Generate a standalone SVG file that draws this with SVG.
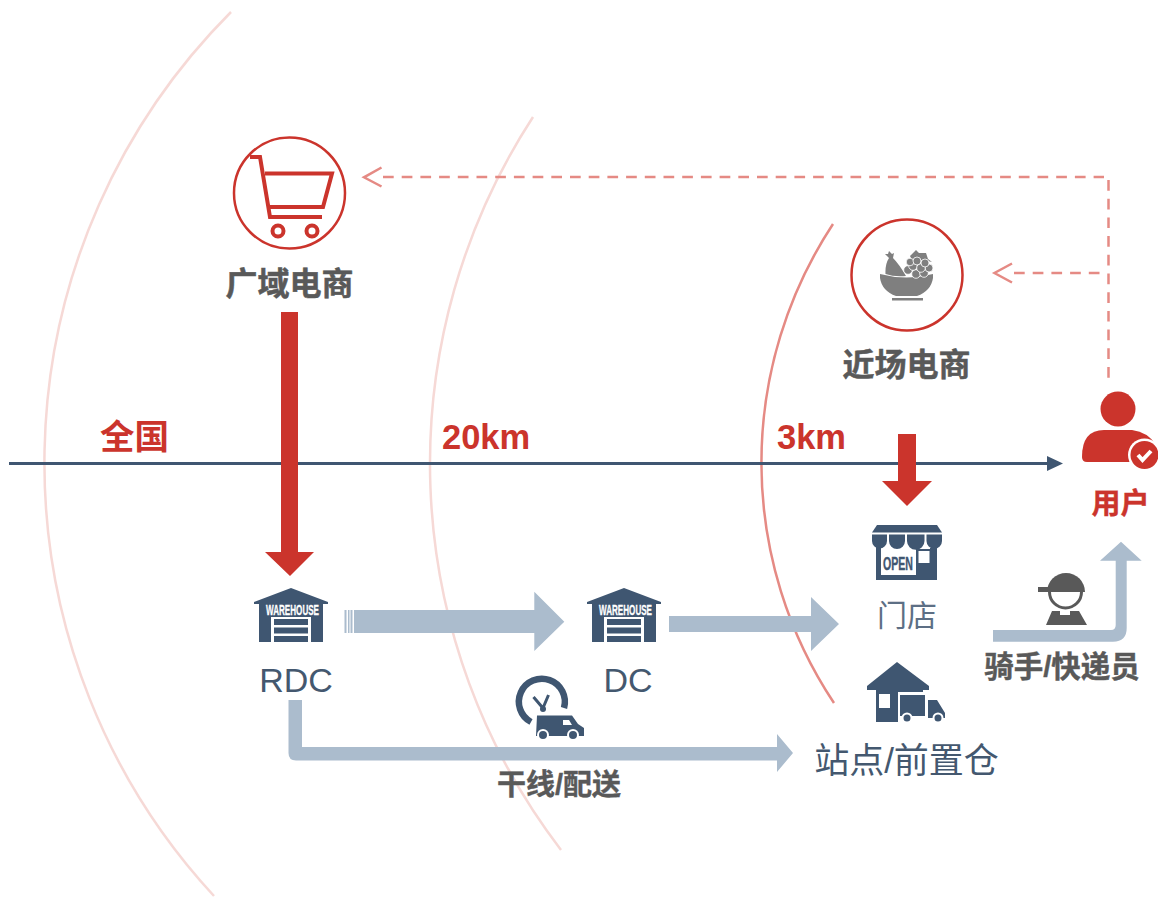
<svg xmlns="http://www.w3.org/2000/svg" width="1158" height="897" viewBox="0 0 1158 897">
<style>
.zh{font-family:"Liberation Sans","Noto Sans CJK SC",sans-serif}
.lbl{font-weight:700;font-size:32px;fill:#595959;stroke:#595959;stroke-width:.5;text-anchor:middle}
.red{font-weight:700;font-size:34.500px;fill:#cb342c}
.blue{font-size:34px;fill:#44586f;text-anchor:middle}
.navy{fill:#3f5671}
.steel{fill:#abbccd}
.arc{fill:none;stroke-width:2.500}
.dash{fill:none;stroke:#e58a84;stroke-width:2.500;stroke-dasharray:10.700 8}
.head{fill:none;stroke:#e58a84;stroke-width:2.500}
.ring{fill:#fff;stroke:#cb342c;stroke-width:2.500}
.wt{font-family:"Liberation Sans Narrow","Liberation Sans",sans-serif;font-weight:700;font-size:15px;fill:#fff;stroke:#fff;stroke-width:.3}
.grape{fill:#7f7f7f;stroke:#fff;stroke-width:.8}
</style>
<defs>
<g id="wh">
<path class="navy" d="M0-21L37-7V-5H32V33H-32V-5H-37V-7Z"/>
<rect x="-20" y="8" width="40" height="25" fill="#fff"/>
<path class="navy" d="M-17 10H17V16H-17ZM-17 18.500H17V24.500H-17ZM-17 27H17V33H-17Z"/>
<text class="wt" x="1.500" y="5.500" text-anchor="middle" textLength="53" lengthAdjust="spacingAndGlyphs">WAREHOUSE</text>
</g>
</defs>
<g id="rings">
<path class="arc" stroke="#f6d9d6" d="M231 12A638 638 0 0 0 214 896"/>
<path class="arc" stroke="#f6d9d6" d="M533 117A635 635 0 0 0 561 850"/>
<path class="arc" stroke="#e58a84" d="M833 224A434 434 0 0 0 834 703"/>
</g>
<g id="connectors">
<path class="navy" d="M9 462H1047V456L1063 463.500L1047 471V465H9Z"/>
<path d="M281 312H298V552H314L290 576L265 552H281Z" fill="#cb342c"/>
<path d="M898 434H916V481H932L907 506L882 481H898Z" fill="#cb342c"/>
<path class="dash" d="M383 177H1104"/>
<path class="dash" d="M1108.500 180V379"/>
<path class="head" d="M381.500 167.500L364 177.300L381.500 186.500"/>
<path class="dash" d="M1014 273H1100"/>
<path class="head" d="M1012 263.500L994.500 273L1012 282.500"/>
<path class="steel" d="M344.500 610H346.500V633H344.500ZM348 610H349.500V633H348ZM350.500 610H352.500V633H350.500ZM354 610H534.300V591.700L564.300 621.700L534.300 651V633H354Z"/>
<path class="steel" d="M669 616H811V597L839 624L811 651V632H669Z"/>
<path class="steel" d="M288.500 700H302V747H777V734L793 753L777 772V760.500H296Q288.500 760.500 288.500 753Z"/>
<path class="steel" d="M993 630H1111Q1115.700 630 1115.700 625V560.700H1100L1121 541.700L1141.700 560.700H1126.700V628Q1126.700 641.700 1113 641.700H993Z"/>
</g>
<g id="node-wide">
<circle class="ring" cx="289.500" cy="193" r="55.500"/>
<g fill="none" stroke="#cb342c" stroke-width="4">
<path d="M250 157H260L270 217H322"/>
<path d="M265 173.500H332L323 207H269"/>
<circle cx="278" cy="231" r="5.500"/>
<circle cx="312" cy="231" r="5.500"/>
</g>
<text class="zh lbl" x="289.500" y="295">广域电商</text>
</g>
<g id="node-near">
<circle class="ring" cx="907" cy="275" r="55.500"/>
<path d="M880 274Q906 281 933 274V278Q931 291 917 296H896Q882 291 880 278Z" fill="#7f7f7f"/>
<rect x="892" y="298" width="31" height="2.500" fill="#7f7f7f"/>
<path d="M889 258L885 254L888 254L889 251L892 254L894 253L893 258Q899 264 906 276Q894 277 885.500 274Q885 264 889 258Z" fill="#7f7f7f"/>
<path d="M910 256L916 250L919 253L926 253L928 259L932 262L924 260H912Z" fill="#7f7f7f"/>
<circle class="grape" cx="908" cy="270" r="4.300"/><circle class="grape" cx="916" cy="274" r="4.300"/><circle class="grape" cx="924" cy="273" r="4.300"/><circle class="grape" cx="929" cy="268" r="4"/><circle class="grape" cx="913" cy="266" r="4.300"/><circle class="grape" cx="921" cy="268" r="4.300"/><circle class="grape" cx="910" cy="262" r="3.800"/><circle class="grape" cx="917" cy="261" r="4"/><circle class="grape" cx="925" cy="263" r="4"/>
<text class="zh lbl" x="906.500" y="376">近场电商</text>
</g>
<g id="node-national"><text class="zh red" x="100" y="449">全国</text></g>
<g id="node-20km"><text class="zh red" x="442" y="449">20km</text></g>
<g id="node-3km"><text class="zh red" x="777" y="449">3km</text></g>
<g id="node-user">
<circle cx="1118" cy="409" r="17.500" fill="#cb342c"/>
<path d="M1082 457Q1082 430 1104 430H1132Q1148 432 1156 445L1135 462H1087Q1082 462 1082 457Z" fill="#cb342c"/>
<circle cx="1144.500" cy="455" r="16.500" fill="#fff"/>
<circle cx="1144.500" cy="455" r="14" fill="#cb342c"/>
<path d="M1138 455L1142.500 460L1151 451" fill="none" stroke="#fff" stroke-width="4"/>
<text class="zh" x="1120.500" y="514" font-size="29" font-weight="700" fill="#cb342c" stroke="#cb342c" stroke-width=".4" text-anchor="middle">用户</text>
</g>
<g id="node-rdc">
<use href="#wh" x="291" y="609"/>
<text class="zh blue" x="296" y="692">RDC</text>
</g>
<g id="node-dc">
<use href="#wh" x="624" y="609"/>
<text class="zh blue" x="628" y="692">DC</text>
</g>
<g id="node-store">
<path class="navy" d="M877 525H937L942 532.500H872Z"/>
<path class="navy" d="M872 534.500H887V541A7.500 7.500 0 0 1 872 541ZM889 534.500H905V541A8 8 0 0 1 889 541ZM907 534.500H924.500V541A8.500 8.500 0 0 1 907 541ZM926.500 534.500H942V541A7.700 7.700 0 0 1 926.500 541Z"/>
<path class="navy" d="M876 547H881V575H917V548.500L918 550H930V548H937V580H876Z"/>
<path class="navy" d="M916 549H933V575H916Z"/>
<rect x="918.500" y="551" width="11" height="12" fill="#fff"/>
<text x="898" y="569.500" font-family="Liberation Sans Narrow,Liberation Sans,sans-serif" font-weight="700" font-size="19" fill="#3f5671" stroke="#3f5671" stroke-width=".4" text-anchor="middle" textLength="30" lengthAdjust="spacingAndGlyphs">OPEN</text>
<text class="zh" x="907" y="626" font-size="30" fill="#5d6f85" text-anchor="middle">门店</text>
</g>
<g id="node-station">
<path class="navy" d="M897 662L929 686V690H923V692H898V722H876V690H867V686Z"/>
<rect x="879" y="694" width="11" height="14" fill="#fff"/>
<path class="navy" d="M900 695H925V716H900ZM928 700H937L945 713V718H928Z"/>
<circle cx="907" cy="718" r="4.500" fill="#3f5671" stroke="#fff" stroke-width="2"/>
<circle cx="938" cy="718" r="4.500" fill="#3f5671" stroke="#fff" stroke-width="2"/>
<text class="zh" x="906.500" y="773" font-size="35" fill="#44586f" text-anchor="middle">站点/前置仓</text>
</g>
<g id="node-courier">
<path d="M1047 592A19 19 0 0 1 1085 592Z" fill="#595959"/>
<rect x="1038" y="587" width="12" height="5" fill="#595959"/>
<path d="M1049.500 592A16 16 0 0 0 1081.500 592" fill="none" stroke="#595959" stroke-width="3"/>
<path d="M1052 611H1060V615H1070V611H1079L1087 625H1046Z" fill="#595959"/>
<text class="zh" x="1062" y="677" font-size="29.500" font-weight="700" fill="#595959" stroke="#595959" stroke-width=".4" text-anchor="middle">骑手/快递员</text>
</g>
<g id="node-trunk">
<path d="M564 708A23 23 0 1 0 531 722" fill="none" stroke="#3f5671" stroke-width="6.500"/>
<path d="M533.500 697L542 707M548.500 695L543 708" fill="none" stroke="#3f5671" stroke-width="3"/>
<circle cx="543" cy="709" r="3" fill="#3f5671"/>
<path class="navy" d="M537 715.500H572L578 724L584 728V736H536Z"/>
<path d="M563 720H569L572 725H563Z" fill="#fff"/>
<circle cx="543" cy="735" r="5" fill="#3f5671" stroke="#fff" stroke-width="2"/>
<circle cx="573" cy="735" r="5" fill="#3f5671" stroke="#fff" stroke-width="2"/>
<text class="zh" x="559" y="795" font-size="29" font-weight="700" fill="#595959" stroke="#595959" stroke-width=".4" text-anchor="middle">干线/配送</text>
</g>
</svg>
